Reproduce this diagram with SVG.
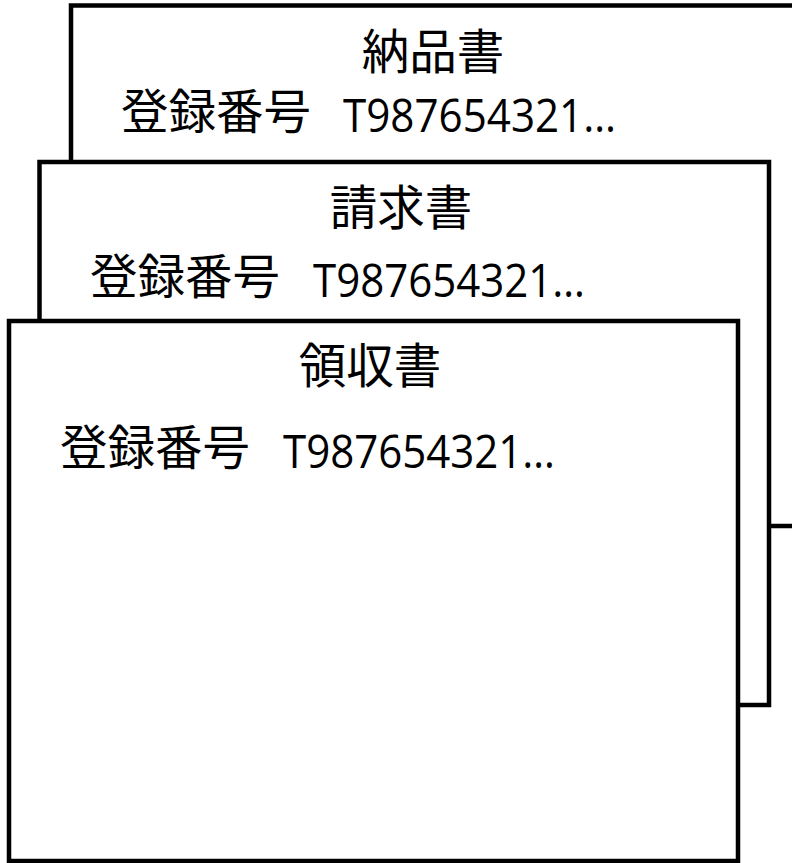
<svg xmlns="http://www.w3.org/2000/svg" width="792" height="863" viewBox="0 0 792 863">
<style>
.doc{fill:#fff;stroke:#000;stroke-width:4.5}
.t{font-family:"Noto Sans CJK JP","Noto Sans",sans-serif;font-size:47.5px;fill:#000}
.n{font-family:"Open Sans","Noto Sans",sans-serif;font-size:45px;fill:#000}
</style>
<rect width="792" height="863" fill="#fff"/>
<g id="nohinsho">
<rect class="doc" x="71" y="5.5" width="731" height="520.5"/>
<text class="t" x="433" y="69" text-anchor="middle">納品書</text>
<text class="t" x="121" y="129">登録番号</text>
<text class="n" x="343" y="132" textLength="273" lengthAdjust="spacingAndGlyphs">T987654321…</text>
</g>
<g id="seikyusho">
<rect class="doc" x="39.5" y="162" width="729.5" height="543"/>
<text class="t" x="401" y="225" text-anchor="middle">請求書</text>
<text class="t" x="90" y="294">登録番号</text>
<text class="n" x="313" y="297" textLength="272" lengthAdjust="spacingAndGlyphs">T987654321…</text>
</g>
<g id="ryoshusho">
<rect class="doc" x="9" y="321" width="729" height="540"/>
<text class="t" x="370" y="383" text-anchor="middle">領収書</text>
<text class="t" x="60" y="465">登録番号</text>
<text class="n" x="283" y="468" textLength="272" lengthAdjust="spacingAndGlyphs">T987654321…</text>
</g>
<g id="connectors"/>
</svg>
